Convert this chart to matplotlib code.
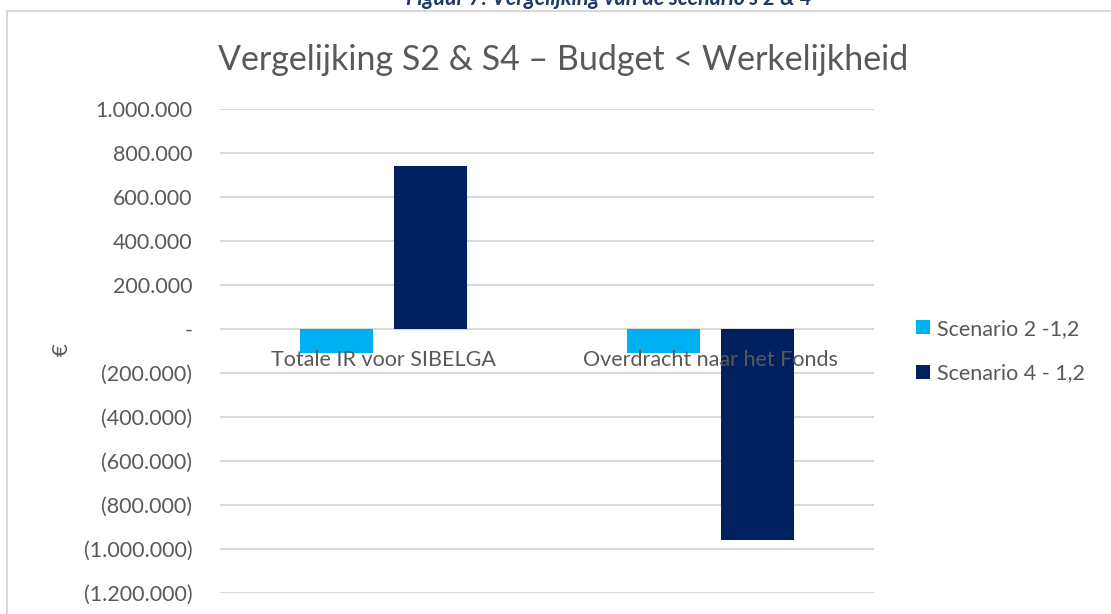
import matplotlib.pyplot as plt
from matplotlib.patches import Rectangle
from matplotlib.ticker import FuncFormatter
import numpy as np

plt.rcParams['font.family'] = ['Lato', 'DejaVu Sans']

# data
categories = ['Totale IR voor SIBELGA', 'Overdracht naar het Fonds']
series_names = ['Scenario 2 -1,2', 'Scenario 4 - 1,2']
scenario2 = [-109000, -109000]
scenario4 = [741000, -959000]
colors = ['#00B0F0', '#002060']
yticks = [1000000, 800000, 600000, 400000, 200000, 0, -200000, -400000,
          -600000, -800000, -1000000, -1200000]


def fmt(v, pos=None):
    if abs(v) < 1:
        return '-'
    s = '{:,.0f}'.format(abs(v)).replace(',', '.')
    return s if v > 0 else '(' + s + ')'


fig = plt.figure(figsize=(11.11, 6.14), dpi=100)

# caption, cut off at the top
fig.text(609 / 1111, 1 - 5 / 614, "Figuur 7: Vergelijking van de scenario's 2 & 4",
         ha='center', va='baseline', fontsize=15.5, fontweight='bold',
         fontstyle='italic', color='#1F3864')

# chart border
fig.patches.append(Rectangle((7 / 1111, -0.1), 1.2, 1 - 11 / 614 + 0.1,
                             transform=fig.transFigure, fill=False,
                             edgecolor='#D9D9D9', linewidth=1.5))

ax = fig.add_axes([220 / 1111, 1 - 593 / 614, 654 / 1111, 484 / 614])
x = np.arange(len(categories))
w = 0.223
ax.bar(x - 0.143, scenario2, w, color=colors[0], label=series_names[0], zorder=3)
ax.bar(x + 0.143, scenario4, w, color=colors[1], label=series_names[1], zorder=3)

ax.set_xlim(-0.5, 1.5)
ax.set_ylim(-1200000, 1000000)
ax.set_yticks(yticks)
ax.yaxis.set_major_formatter(FuncFormatter(fmt))
ax.grid(axis='y', color='#D9D9D9', linewidth=1.5, zorder=0)
for s in ax.spines.values():
    s.set_visible(False)
ax.set_xticks([])
ax.tick_params(axis='both', length=0, labelsize=15.5, labelcolor='#595959')
ax.tick_params(axis='y', pad=20)

# category labels sit just under the zero line, on top of the bars
for i, cat in enumerate(categories):
    ax.annotate(cat, (i, 0), xytext=(0, -31), textcoords='offset pixels',
                ha='center', va='center', fontsize=15.5, color='#595959',
                zorder=5, annotation_clip=False)

fig.text(62 / 1111, 1 - 350 / 614, '€', rotation=90, ha='center', va='center',
         fontsize=16, color='#595959')

ax.set_title('Vergelijking S2 & S4 – Budget < Werkelijkheid', fontsize=24.5,
             color='#595959', x=(563 - 220) / 654, pad=28)

ax.legend(loc='center left', bbox_to_anchor=(1.035, 0.5), frameon=False,
          fontsize=15.5, labelcolor='#595959', handlelength=0.65, handleheight=0.65,
          handletextpad=0.3, labelspacing=1.15)

fig.savefig('out.png', dpi=100)
